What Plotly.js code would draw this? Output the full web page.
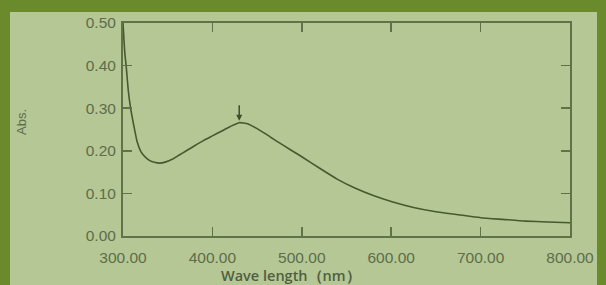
<!DOCTYPE html>
<html>
<head>
<meta charset="utf-8">
<script src="https://cdn.plot.ly/plotly-3.0.1.min.js"></script>
<style>
html,body{margin:0;padding:0;width:606px;height:285px;overflow:hidden;background:#6a8a2b;}
#panel{position:absolute;left:10px;top:12px;width:587px;height:273px;background:#b4c795;}
#chart{position:absolute;left:0;top:0;width:606px;height:285px;}
</style>
</head>
<body>
<div id="panel"></div>
<div id="chart"></div>
<script>
// Wavelength (nm) and absorbance
const wavelength = [300,302,303.5,306,308.5,312,316,320,325,330,335,341,348,355,362,370,380,390,400,410,420,430,440,450,460,470,480,490,500,520,540,560,580,600,625,650,675,700,725,750,775,800];
const absorbance = [0.50,0.43,0.40,0.34,0.30,0.26,0.22,0.198,0.185,0.177,0.173,0.171,0.174,0.180,0.189,0.199,0.212,0.224,0.235,0.246,0.257,0.266,0.263,0.252,0.239,0.225,0.212,0.199,0.186,0.159,0.133,0.112,0.095,0.081,0.067,0.057,0.050,0.043,0.039,0.035,0.033,0.031];
const xTicks = [300,400,500,600,700,800];
const xTickText = ["300.00","400.00","500.00","600.00","700.00","800.00"];
const yTicks = [0,0.1,0.2,0.3,0.4,0.5];
const yTickText = ["0.00","0.10","0.20","0.30","0.40","0.50"];
const peak = {x:430, y:0.266};

const axisColor = '#5f7248';
const labelColor = '#5e6d4a';

const trace = {
  x: wavelength, y: absorbance, type:'scatter', mode:'lines',
  line:{color:'#46592f', width:1.6, shape:'spline', smoothing:0.5},
  hoverinfo:'skip'
};

const pw = 606-123-36, ph = 285-23-49;
const px2x = p => (p - 123)/pw;
const px2y = p => (285-49 - p)/ph;

const layout = {
  width:606, height:285,
  margin:{l:123, r:36, t:23, b:49},
  paper_bgcolor:'rgba(0,0,0,0)', plot_bgcolor:'rgba(0,0,0,0)',
  showlegend:false,
  font:{family:'Liberation Sans, Arial, sans-serif', color:labelColor},
  xaxis:{
    range:[300,800], tickvals:xTicks, ticktext:xTickText,
    ticks:'inside', ticklen:9, tickwidth:1.5, tickcolor:axisColor,
    showline:true, linecolor:axisColor, linewidth:2, mirror:'ticks',
    showgrid:false, zeroline:false,
    tickfont:{size:15.5, color:labelColor}, ticklabelstandoff:6
  },
  yaxis:{
    range:[0,0.5], tickvals:yTicks, ticktext:yTickText,
    ticks:'inside', ticklen:9, tickwidth:1.5, tickcolor:axisColor,
    showline:true, linecolor:axisColor, linewidth:2, mirror:'ticks',
    showgrid:false, zeroline:false,
    tickfont:{size:15.5, color:labelColor}, ticklabelstandoff:2
  },
  annotations:[
    {x:peak.x, y:peak.y, xref:'x', yref:'y', text:'', showarrow:true,
     arrowhead:2, arrowsize:0.8, arrowwidth:1.5, arrowcolor:'#3f5029', ax:0, ay:-19, standoff:2},
    {x:px2x(291), y:px2y(275), xref:'paper', yref:'paper', xanchor:'center', yanchor:'middle',
     text:'Wave length（nm）', showarrow:false,
     font:{family:'Open Sans, sans-serif', size:14.5, color:'#505f40', weight:600}},
    {x:px2x(21), y:px2y(122), xref:'paper', yref:'paper', xanchor:'center', yanchor:'middle',
     text:'Abs.', showarrow:false, textangle:-90,
     font:{family:'Liberation Sans, Arial, sans-serif', size:13, color:labelColor}}
  ]
};

Plotly.newPlot('chart', [trace], layout, {staticPlot:true, displayModeBar:false});
</script>
</body>
</html>
